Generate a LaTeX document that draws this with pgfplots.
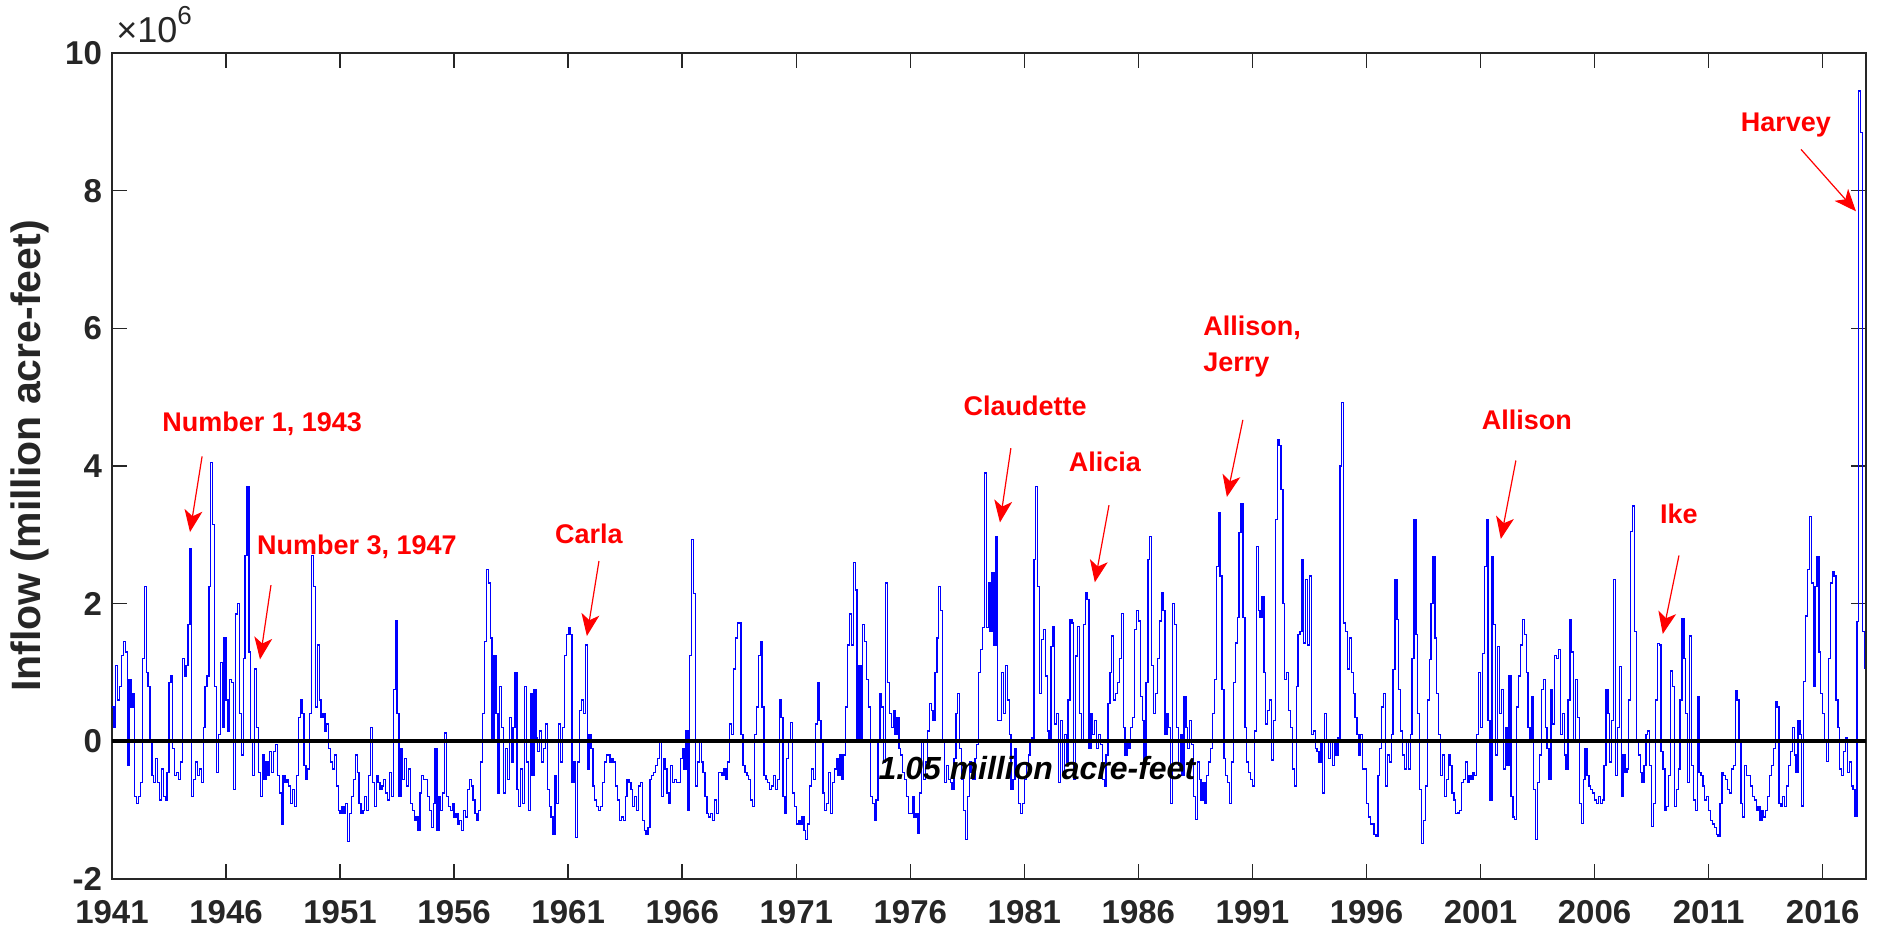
\documentclass[border=0pt]{standalone}
\usepackage{fontspec}
\setmainfont{Liberation Sans}
\usepackage{pgfplots}
\pgfplotsset{compat=1.18}
\usepackage{pgfplotstable}
\usetikzlibrary{arrows.meta}
\definecolor{axgray}{HTML}{262626}
% monthly inflow anomaly, million acre-feet, Jan 1941 onward
\pgfplotstableread[row sep=\\]{
v\\
0.5\\ 0.2\\ 1.1\\ 0.6\\ 0.8\\ 1.25\\ 1.45\\ 1.3\\ -0.35\\ 0.9\\
0.5\\ 0.7\\ -0.8\\ -0.9\\ -0.8\\ -0.6\\ 1.2\\ 2.25\\ 1.0\\ 0.8\\
0.0\\ -0.5\\ -0.6\\ -0.25\\ -0.6\\ -0.85\\ -0.4\\ -0.8\\ -0.85\\ -0.45\\
0.85\\ 0.95\\ -0.1\\ -0.5\\ -0.45\\ -0.55\\ -0.3\\ 1.2\\ 0.95\\ 1.1\\
1.7\\ 2.8\\ -0.8\\ -0.55\\ -0.3\\ -0.5\\ -0.4\\ -0.6\\ 0.2\\ 0.8\\
0.95\\ 2.25\\ 4.05\\ 3.15\\ 0.8\\ -0.45\\ 0.1\\ 1.15\\ 0.2\\ 1.5\\
0.6\\ 0.15\\ 0.9\\ 0.85\\ -0.7\\ 1.85\\ 2.0\\ 0.4\\ -0.2\\ 1.2\\
2.7\\ 3.7\\ 1.3\\ 0.0\\ -0.5\\ 1.05\\ 0.2\\ -0.45\\ -0.8\\ -0.2\\
-0.55\\ -0.3\\ -0.5\\ -0.15\\ -0.45\\ -0.15\\ -0.05\\ -0.5\\ -0.75\\ -1.2\\
-0.5\\ -0.6\\ -0.55\\ -0.65\\ -0.9\\ -0.7\\ -0.95\\ -0.5\\ 0.35\\ 0.6\\
0.4\\ -0.35\\ -0.55\\ -0.4\\ 0.4\\ 2.7\\ 2.25\\ 0.5\\ 1.4\\ 0.6\\
0.35\\ 0.4\\ 0.15\\ 0.25\\ -0.1\\ -0.3\\ -0.4\\ -0.2\\ -0.65\\ -1.0\\
-1.05\\ -0.95\\ -1.05\\ -0.9\\ -1.45\\ -1.05\\ -0.8\\ -0.55\\ -0.2\\ -0.45\\
-0.9\\ -1.05\\ -1.0\\
-0.8\\ -1.0\\ -0.5\\ 0.2\\ -0.6\\ -0.95\\ -0.5\\
-0.6\\ -0.7\\ -0.65\\ -0.55\\ -0.75\\ -0.85\\ -0.45\\ -0.8\\ 0.75\\ 1.75\\
0.4\\ -0.8\\ -0.1\\ -0.55\\ -0.25\\ -0.65\\ -0.4\\ -0.9\\ -1.0\\ -1.15\\
-1.1\\ -1.3\\ -0.75\\ -0.5\\ -0.55\\ -0.55\\ -0.8\\ -1.0\\ -1.25\\ -0.9\\
-0.1\\ -1.3\\ -0.8\\ -1.0\\ -0.75\\ 0.12\\ -0.8\\ -0.95\\ -1.0\\ -0.9\\
-1.1\\ -1.05\\ -1.2\\ -1.15\\ -1.3\\ -1.0\\ -1.1\\ -0.7\\ -0.55\\ -0.65\\
-0.85\\ -1.05\\ -1.15\\ -1.0\\ -0.3\\ 0.4\\ 1.45\\ 2.5\\ 2.3\\ 1.5\\
0.0\\ 1.25\\ 0.4\\ -0.75\\ 0.8\\ 0.2\\ -0.75\\ -0.1\\ -0.55\\ 0.35\\
-0.3\\ 0.2\\ 1.0\\ -0.7\\ -0.95\\ -0.4\\ -0.9\\ 0.8\\ -0.3\\ -1.0\\
0.7\\ -0.5\\ 0.75\\ 0.05\\ -0.15\\ 0.15\\ -0.3\\ -0.1\\ 0.25\\ -0.7\\
-0.95\\ -1.1\\ -1.35\\ -0.5\\ -0.9\\ 0.25\\ -0.3\\ 0.2\\ 1.25\\ 1.55\\
1.65\\ 1.55\\ -0.6\\ -0.3\\ -1.4\\ -0.3\\ 0.45\\ 0.6\\ 0.4\\ 1.4\\
-0.4\\ 0.1\\ -0.1\\ -0.65\\ -0.85\\ -0.95\\ -1.0\\ -0.95\\ -0.6\\ -0.3\\
-0.2\\ -0.2\\ -0.3\\ -0.25\\
-0.3\\ -0.65\\ -0.85\\ -1.15\\ -1.1\\ -1.15\\
-0.8\\ -0.55\\ -0.6\\ -0.7\\ -0.95\\ -0.8\\ -1.0\\ -0.65\\ -0.6\\ -1.15\\
-1.3\\ -1.35\\ -1.25\\ -0.55\\ -0.5\\ -0.45\\ -0.35\\ -0.25\\ 0.0\\ -0.8\\
-0.25\\ -0.4\\ -0.75\\ -0.9\\ -0.35\\ -0.6\\ -0.55\\ -0.6\\ -0.6\\ -0.25\\
-0.1\\ -0.4\\ 0.15\\ -1.0\\ 1.25\\ 2.93\\ 2.15\\ -0.65\\ -0.3\\ 0.0\\
-0.3\\ -0.45\\ -0.8\\ -1.05\\ -1.1\\ -1.05\\ -1.15\\ -0.85\\ -1.05\\ -0.45\\
-0.45\\ -0.5\\ -0.4\\ -0.55\\ -0.3\\ 0.25\\ 0.1\\ 1.05\\ 1.5\\ 1.72\\
1.72\\ 0.1\\ -0.35\\ -0.45\\ -0.5\\ -0.55\\ -0.85\\ -0.95\\ 0.1\\ 0.5\\
1.25\\ 1.45\\ 0.5\\ -0.5\\ -0.55\\ -0.6\\ -0.7\\ -0.65\\ -0.5\\ -0.7\\
-0.55\\ 0.6\\ 0.35\\ -0.8\\ -1.05\\ -0.25\\ 0.0\\ 0.27\\ -0.75\\ -0.95\\
-1.2\\ -1.15\\ -1.2\\ -1.1\\ -1.3\\ -1.43\\ -1.2\\ -0.65\\ -0.4\\ -0.55\\
0.25\\ 0.85\\ 0.3\\ 0.0\\ -0.75\\ -1.0\\ -0.9\\ -0.45\\ -1.05\\ -0.6\\
-0.4\\ -0.25\\ -0.5\\ -0.2\\ -0.55\\ -0.2\\ 0.5\\ 1.4\\ 1.85\\ 1.4\\
2.6\\ 2.2\\ 0.0\\ 1.1\\ 0.0\\ 1.7\\
1.45\\ 0.9\\ 0.5\\ -0.8\\
-0.9\\ -1.15\\ -0.85\\ 0.0\\ 0.7\\ 0.5\\ -0.3\\ 2.3\\ 0.85\\ 0.4\\
0.2\\ 0.45\\ 0.1\\ 0.35\\ -0.1\\ -0.2\\ -0.45\\ -0.55\\ -0.8\\ -1.05\\
-1.05\\ -0.8\\ -1.1\\ -1.05\\ -1.33\\ -0.75\\ 0.0\\ -0.55\\ -0.3\\ 0.15\\
0.55\\ 0.45\\ 0.3\\ 1.0\\ 1.5\\ 2.25\\ 1.9\\ 0.0\\ -0.6\\ -0.35\\
-0.55\\ -0.6\\ -0.7\\ -0.25\\ 0.4\\ 0.7\\ -0.1\\ -0.55\\ -1.0\\ -1.43\\
-0.8\\ -0.3\\ -0.45\\ -0.55\\ -0.25\\ -0.05\\ 1.0\\ 1.33\\ 1.65\\ 3.9\\
1.65\\ 2.3\\ 1.6\\ 2.45\\ 1.4\\ 2.98\\ 0.3\\ 0.3\\ 1.0\\ 0.4\\
1.1\\ 0.6\\ 0.1\\ -0.7\\ -0.55\\ -0.1\\ -0.45\\ -0.9\\ -1.05\\ -0.9\\
-0.55\\ -0.35\\ -0.2\\ 0.0\\ 0.05\\ 2.64\\ 3.7\\ 2.25\\ 0.7\\ 1.48\\
1.62\\ 0.95\\ 0.15\\ 0.0\\ 1.38\\ 1.67\\ 0.25\\ 0.4\\ -0.6\\ 0.3\\
-0.5\\ 0.1\\ -0.3\\ 0.6\\ 1.77\\ 1.72\\ -0.55\\ 1.24\\ 1.67\\ 0.4\\
0.0\\ 1.7\\ 2.16\\ 2.06\\ -0.1\\ 0.4\\ 0.1\\ 0.3\\ -0.1\\ 0.1\\
-0.05\\ -0.55\\ -0.65\\ -0.2\\ 0.55\\ 1.0\\ 1.53\\
0.6\\ 0.7\\ 0.85\\
1.2\\ 1.86\\ 0.2\\ -0.2\\ 0.0\\ -0.1\\ 0.2\\ 0.35\\ 1.62\\ 1.9\\
1.75\\ 0.65\\ 0.3\\ -0.3\\ 0.85\\ 2.64\\ 2.98\\ 1.1\\ 0.4\\ 0.7\\
1.2\\ 1.75\\ 2.16\\ 1.9\\ 0.1\\ 0.4\\ 0.2\\ -0.9\\ 2.0\\ 1.7\\
0.2\\ -0.35\\ 0.1\\ -0.5\\ 0.65\\ 0.2\\ -0.1\\ 0.3\\ -0.05\\ -0.8\\
-1.14\\ -0.3\\ -0.55\\ -0.85\\ -0.6\\ -0.9\\ -0.5\\ -0.3\\ -0.1\\ 0.4\\
0.9\\ 2.54\\ 3.32\\ 2.4\\ 0.75\\ -0.25\\ -0.5\\ -0.6\\ -0.9\\ -0.3\\
0.85\\ 1.43\\ 1.8\\ 3.03\\ 3.46\\ 1.8\\ 0.2\\ -0.3\\ -0.45\\ -0.55\\
-0.65\\ 0.15\\ 2.83\\ 1.9\\ 1.8\\ 2.1\\ 1.0\\ 0.25\\ 0.45\\ 0.6\\
-0.27\\ 0.3\\ 3.22\\ 4.38\\ 4.3\\ 3.66\\ 2.0\\ 0.9\\ 1.0\\ 0.45\\
0.2\\ -0.4\\ -0.65\\ 0.8\\ 1.55\\ 1.6\\ 2.64\\ 1.43\\ 2.35\\ 1.4\\
2.4\\ 0.1\\ 0.15\\ -0.1\\ -0.15\\ -0.3\\ 0.0\\ -0.75\\ 0.4\\ 0.0\\
-0.25\\ 0.0\\ -0.35\\ 0.0\\ -0.2\\ 0.05\\ 4.0\\ 4.92\\ 1.72\\ 1.6\\
1.05\\ 1.5\\ 1.0\\ 0.7\\ 0.35\\ 0.1\\ -0.2\\ 0.1\\ -0.4\\
-0.4\\
-0.9\\ -1.1\\ -1.2\\ -1.2\\ -1.35\\ -1.38\\ -0.5\\ -0.1\\ 0.5\\ 0.7\\
-0.65\\ -0.2\\ -0.3\\ 0.1\\ 1.04\\ 2.35\\ 1.77\\ 0.75\\ 0.15\\ -0.2\\
-0.4\\ 0.0\\ -0.4\\ 0.1\\ 1.2\\ 3.22\\ 1.55\\ 0.4\\ -0.7\\ -1.48\\
-1.15\\ -0.65\\ 0.6\\ 1.19\\ 2.0\\ 2.69\\ 1.5\\ 0.7\\ 0.1\\ -0.5\\
-0.2\\ -0.8\\ -0.55\\ -0.2\\ -0.35\\ -0.75\\ -0.85\\ -1.05\\ -1.04\\ -1.0\\
-0.6\\ -0.55\\ -0.3\\ -0.6\\ -0.5\\ -0.55\\ -0.45\\ -0.5\\ 0.1\\ 1.0\\
0.2\\ 1.28\\ 2.54\\ 3.22\\ 0.3\\ -0.85\\ 2.69\\ 1.7\\ -0.2\\ 1.38\\
0.4\\ 0.75\\ -0.4\\ 0.2\\ -0.35\\ 0.95\\ -0.8\\ -1.1\\ -1.14\\ 0.5\\
0.95\\ 1.4\\ 1.77\\ 1.55\\ 1.0\\ 0.2\\ 0.0\\ 0.65\\ -0.7\\ -1.43\\
-0.6\\ -0.2\\ 0.75\\ 0.9\\ 0.2\\ -0.1\\ -0.55\\ 0.75\\ 0.25\\ 1.25\\
1.2\\ 1.33\\ 0.1\\ 0.4\\ -0.2\\ -0.4\\ 0.6\\ 1.77\\ 1.3\\ 0.0\\
0.9\\ 0.35\\ -0.9\\ -1.19\\ -0.55\\ -0.1\\ -0.5\\ -0.65\\ -0.7\\ -0.75\\
-0.85\\ -0.9\\ -0.8\\ -0.9\\ -0.85\\ -0.35\\ 0.75\\ 0.4\\ -0.3\\ 0.3\\
2.35\\
-0.5\\ 0.2\\ 1.09\\ -0.8\\ -0.2\\ -0.45\\ -0.4\\ 0.6\\ 3.05\\
3.42\\ 1.6\\ 0.0\\ -0.2\\ -0.45\\ -0.6\\ -0.35\\ 0.1\\ 0.15\\ -0.35\\
-1.24\\ -0.9\\ 0.6\\ 1.42\\ 1.4\\ -0.15\\ -0.4\\ -1.0\\ -0.95\\ -0.5\\
1.02\\ 0.8\\ -0.95\\ -0.7\\ -0.4\\ 0.6\\ 1.78\\ 1.2\\ 0.4\\ -0.6\\
1.53\\ -0.35\\ -0.85\\ -1.0\\ 0.65\\ -0.45\\ -0.5\\ -0.65\\ -0.85\\ -0.8\\
-1.0\\ -1.15\\ -1.2\\ -1.25\\ -1.35\\ -1.38\\ -0.9\\ -0.45\\ -0.5\\ -0.55\\
-0.7\\ -0.75\\ -0.4\\ -0.35\\ 0.73\\ 0.6\\ 0.0\\ -0.9\\ -1.1\\ -0.35\\
-0.5\\ -0.5\\ -0.65\\ -0.8\\ -0.85\\ -1.0\\ -0.95\\ -1.15\\ -1.0\\ -1.1\\
-1.0\\ -0.8\\ -0.5\\ -0.35\\ -0.1\\ 0.58\\ 0.5\\ -0.9\\ -0.95\\ -0.8\\
-0.95\\ -0.65\\ -0.35\\ -0.15\\ 0.2\\ -0.2\\ -0.45\\ 0.3\\ 0.1\\ -0.94\\
0.87\\ 1.82\\ 2.5\\ 3.27\\ 2.3\\ 0.8\\ 2.25\\ 2.69\\ 1.3\\ 0.7\\
0.4\\ 0.0\\ -0.29\\ 1.2\\ 2.3\\ 2.47\\ 2.4\\ 0.6\\ 0.2\\ -0.4\\
-0.5\\ -0.15\\ 0.05\\ -0.45\\ -0.3\\ -0.65\\ -0.7\\ -1.09\\ 1.74\\ 9.45\\
8.85\\ 1.6\\ 1.05\\
}\inflow

\tikzset{
  ann/.style={text=red, font=\fontsize{13.5}{18}\selectfont\bfseries, inner sep=0pt},
  annarrow/.style={red, line width=0.6pt, -{Stealth[length=11pt,width=9pt,inset=3pt]}}
}

\begin{document}
\begin{tikzpicture}
\path[use as bounding box] (-56pt,-27.5pt) rectangle (889pt,439.5pt);
\begin{axis}[
  at={(0,0)}, anchor=south west,
  scale only axis, width=877pt, height=413pt,
  xmin=1941, xmax=2017.9, ymin=-2, ymax=10,
  xtick={1941,1946,1951,1956,1961,1966,1971,1976,1981,1986,1991,1996,2001,2006,2011,2016},
  xticklabels={1941,1946,1951,1956,1961,1966,1971,1976,1981,1986,1991,1996,2001,2006,2011,2016},
  ytick={-2,0,2,4,6,8,10},
  yticklabels={-2,0,2,4,6,8,10},
  xtick pos=both, ytick pos=both,
  xticklabel pos=lower, yticklabel pos=left,
  tick align=inside,
  major tick length=7.5pt,
  tick style={axgray, line width=0.75pt},
  axis line style={axgray, line width=0.75pt},
  ticklabel style={font=\fontsize{16.5}{18}\selectfont\bfseries, text=axgray},
  xticklabel style={yshift=-7pt},
  yticklabel style={xshift=-1.5pt},
  ylabel={Inflow (million acre-feet)},
  ylabel style={font=\fontsize{20.5}{22}\selectfont\bfseries, text=axgray,
    at={(axis description cs:-0.0468,0.512)}, anchor=center},
  clip=false,
]
\addplot[blue, line width=0.65pt, const plot, mark=none]
  table[x expr=1941+\coordindex/12, y=v] {\inflow};
\addplot[black, line width=2pt, mark=none] coordinates {(1941,0) (2017.9,0)};

\node[ann] at (axis cs:1947.58,4.61) {Number 1, 1943};
\draw[annarrow] (axis cs:1944.95,4.14) -- (axis cs:1944.42,3.04);
\node[ann] at (axis cs:1951.74,2.83) {Number 3, 1947};
\draw[annarrow] (axis cs:1947.97,2.27) -- (axis cs:1947.49,1.19);
\node[ann] at (axis cs:1961.91,3.01) {Carla};
\draw[annarrow] (axis cs:1962.35,2.62) -- (axis cs:1961.82,1.53);
\node[ann] at (axis cs:1981.03,4.88) {Claudette};
\draw[annarrow] (axis cs:1980.41,4.26) -- (axis cs:1979.93,3.18);
\node[ann] at (axis cs:1984.53,4.06) {Alicia};
\draw[annarrow] (axis cs:1984.71,3.43) -- (axis cs:1984.09,2.31);
\node[ann, align=left, anchor=west] at (axis cs:1988.83,5.73) {Allison,\\Jerry};
\draw[annarrow] (axis cs:1990.58,4.67) -- (axis cs:1989.88,3.55);
\node[ann] at (axis cs:2003.03,4.67) {Allison};
\draw[annarrow] (axis cs:2002.55,4.08) -- (axis cs:2001.89,2.94);
\node[ann] at (axis cs:2009.70,3.30) {Ike};
\draw[annarrow] (axis cs:2009.70,2.70) -- (axis cs:2008.99,1.56);
\node[ann] at (axis cs:2014.39,8.95) {Harvey};
\draw[annarrow] (axis cs:2015.05,8.60) -- (axis cs:2017.46,7.70);

\node[font=\fontsize{16}{18}\selectfont\bfseries\itshape, text=black, inner sep=0pt]
  at (axis cs:1981.55,-0.39) {1.05 million acre-feet};

\node[anchor=south west, inner sep=0pt, text=axgray, font=\fontsize{18}{20}\selectfont]
  at (axis description cs:0,1) [xshift=2pt, yshift=5pt]
  {×10\raisebox{0.5em}{\fontsize{13}{14}\selectfont 6}};
\end{axis}
\end{tikzpicture}
\end{document}
